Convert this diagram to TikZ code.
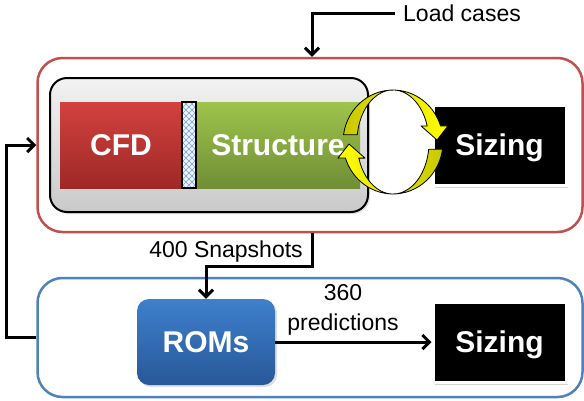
\documentclass[tikz,border=0pt]{standalone}
\usepackage{fontspec}
\setmainfont{Liberation Sans}
\usetikzlibrary{arrows.meta,shadows}
\definecolor{redline}{RGB}{192,80,77}
\definecolor{blueline}{RGB}{79,129,189}
\definecolor{cfdtop}{RGB}{210,66,62}
\definecolor{cfdbot}{RGB}{158,40,38}
\definecolor{strtop}{RGB}{158,196,76}
\definecolor{strbot}{RGB}{112,142,54}
\definecolor{romtop}{RGB}{62,128,204}
\definecolor{rombot}{RGB}{40,88,152}
\definecolor{hatchbg}{RGB}{236,243,252}
\definecolor{hatchln}{RGB}{120,160,215}
\definecolor{olivey}{RGB}{200,200,0}
\newcommand\lblfont{\fontsize{23}{30}\selectfont}
\newcommand\boxfont{\fontsize{30}{35}\selectfont\bfseries}
\tikzset{
  outer/.style={draw, rectangle, rounded corners=25pt, line width=2.5pt, inner sep=0pt},
  greybox/.style={draw=black, rectangle, rounded corners=17pt, line width=2pt, top color=gray!10, bottom color=gray!42, inner sep=0pt,
     drop shadow={opacity=0.25, shadow xshift=2pt, shadow yshift=-2pt}},
  block/.style={rectangle, inner sep=0pt, text=white, font=\boxfont},
  sizingbox/.style={block, fill=black, draw=white, line width=3pt, text depth=0pt,
     drop shadow={opacity=0.35, shadow xshift=2pt, shadow yshift=-2.5pt}},
  conn/.style={draw=black, line width=3pt, -{Straight Barb[length=7pt,width=14pt]}},
  lbl/.style={inner sep=0pt, font=\lblfont},
  yarrow/.style={draw=black, line width=0.8pt, line join=round}
}
\begin{document}
\begin{tikzpicture}[x=1pt,y=-1pt]
\useasboundingbox (0,0) rectangle (584,400);
\fill[white] (0,0) rectangle (584,400);

% outer boxes
\node[outer, draw=redline, minimum width=545pt, minimum height=174pt] (simbox) at (310,145) {};
\node[outer, draw=blueline, minimum width=545pt, minimum height=119pt] (rombox) at (310,337.5) {};

% grey coupled box
\node[greybox, minimum width=318pt, minimum height=134pt] (grey) at (209,145) {};
\node[block, top color=cfdtop, bottom color=cfdbot, minimum width=122pt, minimum height=86pt] (cfd) at (121,145) {CFD};
\node[block, top color=strtop, bottom color=strbot, minimum width=164pt, minimum height=86pt] (struct) at (278,145) {Structure};
\node[rectangle, inner sep=0pt, fill=hatchbg, minimum width=13pt, minimum height=86pt] (strip) at (189,145) {};
\begin{scope}
  \clip (strip.north west) rectangle (strip.south east);
  \foreach \k in {-20,-14,...,100} {
    \draw[hatchln, line width=0.5pt] (182,102+\k) -- (196,116+\k);
    \draw[hatchln, line width=0.5pt] (182,116+\k) -- (196,102+\k);
  }
\end{scope}
\draw[black, line width=1.8pt] (strip.north west) rectangle (strip.south east);

% sizing boxes
\node[sizingbox, minimum width=133pt, minimum height=80pt] (size1) at (499.5,145) {Sizing};
\node[sizingbox, minimum width=133pt, minimum height=80pt] (size2) at (499.5,342) {Sizing};

% ROMs
\node[block, rounded corners=12pt, top color=romtop, bottom color=rombot, minimum width=138pt, minimum height=86pt,
  drop shadow={opacity=0.25, shadow xshift=2pt, shadow yshift=-2pt}] (roms) at (206,342) {ROMs};

% labels
\node[lbl, anchor=west] (loadtxt) at (403,13) {Load cases};
\node[lbl] (snaptxt) at (226,252) {400 Snapshots};
\node[lbl, align=center] (predtxt) at (343,310) {360\\predictions};

% connectors
\draw[conn] ([xshift=-8pt]loadtxt.west) -| ([xshift=2pt]simbox.north);
\draw[conn] ([xshift=2pt]simbox.south) -- ++(0,33) -| (roms.north);
\draw[conn] (rombox.west) -- ++(-29.5,0) |- (simbox.west);
\draw[conn] (roms.east) -- (size2.west);

% yellow cycle arrows
\shade[yarrow, left color=olivey, right color=yellow]
  (343.5,134.8) arc[start angle=188, end angle=342, x radius=50, y radius=52]
  -- (448,125.9) -- (437,140) -- (421,125.9) -- (427.2,125.9)
  arc[start angle=342, end angle=188, x radius=36, y radius=52] -- cycle;
\shade[yarrow, left color=yellow, right color=olivey]
  (442.5,149.2) arc[start angle=8, end angle=162, x radius=50, y radius=52]
  -- (338,158.1) -- (349,144) -- (365,158.1) -- (358.8,158.1)
  arc[start angle=162, end angle=8, x radius=36, y radius=52] -- cycle;
\end{tikzpicture}
\end{document}
